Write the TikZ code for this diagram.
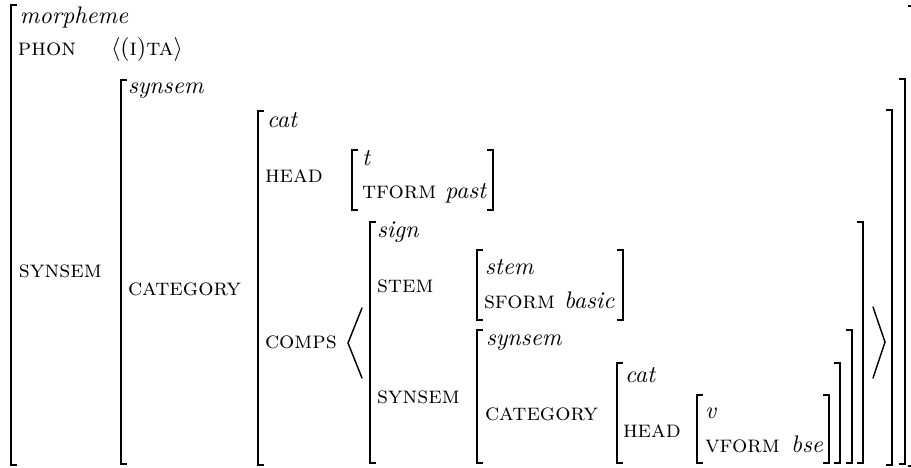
\documentclass[tikz,border=0pt]{standalone}
\usepackage{amsmath}
\begin{document}
\begin{tikzpicture}[x=0.41667pt, y=-0.41667pt,
  brk/.style={line width=0.7pt, line cap=butt, line join=miter},
  ang/.style={line width=0.6pt, line cap=round},
  lab/.style={anchor=base west, inner sep=0pt, outer sep=0pt}]
\useasboundingbox (0,0) rectangle (911,467);
\newcommand\LBr[3]{\draw[brk] ({#1+6},#2) -- (#1,#2) -- (#1,#3) -- ({#1+6},#3);}
\newcommand\RBr[3]{\draw[brk] ({#1-6},#2) -- (#1,#2) -- (#1,#3) -- ({#1-6},#3);}
% outer morpheme AVM
\LBr{11}{5}{465}\RBr{914}{6}{466}
\node[lab] (morph) at (20,23) {\textit{morpheme}};
\node[lab] (phon) at (18,55) {\textsc{phon}};
\node[lab] (phonv) at (111,55) {$\langle$(\textsc{i})\textsc{ta}$\rangle$};
\node[lab] (syn1) at (19,277) {\textsc{synsem}};
% synsem level
\LBr{121}{80}{464}\RBr{905}{79}{464}
\node[lab] (syn2) at (128,93) {\textit{synsem}};
\node[lab] (cat2) at (128,295) {\textsc{category}};
% cat level
\LBr{258}{111}{465}\RBr{892}{110}{465}
\node[lab] (cat3) at (267,127) {\textit{cat}};
\node[lab] (head3) at (265,182) {\textsc{head}};
\LBr{352}{150}{210}\RBr{493}{150}{210}
\node[lab] (t) at (362,165) {\textit{t}};
\node[lab] (tform) at (362,198) {\textsc{tform}};
\node[lab] (past) at (445,198) {\textit{past}};
\node[lab] (comps) at (265,348) {\textsc{comps}};
\coordinate (la1) at (362,308); \coordinate (la2) at (348,343); \coordinate (la3) at (362,378);
\draw[ang] (la1) -- (la2) -- (la3);
% sign
\LBr{370}{222}{463}\RBr{863}{222}{463}
\node[lab] (sign) at (377,237) {\textit{sign}};
\node[lab] (stemL) at (377,292) {\textsc{stem}};
\LBr{477}{250}{320}\RBr{623}{250}{320}
\node[lab] (stemT) at (485,274) {\textit{stem}};
\node[lab] (sform) at (484,308) {\textsc{sform}};
\node[lab] (basic) at (564,308) {\textit{basic}};
\node[lab] (syn3) at (377,403) {\textsc{synsem}};
% inner synsem
\LBr{477}{330}{463}\RBr{852}{330}{463}
\node[lab] (syn4) at (486,345) {\textit{synsem}};
\node[lab] (cat4) at (485,420) {\textsc{category}};
\LBr{617}{363}{463}\RBr{840}{363}{463}
\node[lab] (cat5) at (625,382) {\textit{cat}};
\node[lab] (head5) at (623,437) {\textsc{head}};
\LBr{697}{395}{463}\RBr{829}{395}{463}
\node[lab] (v) at (705,418) {\textit{v}};
\node[lab] (vform) at (705,452) {\textsc{vform}};
\node[lab] (bse) at (791,452) {\textit{bse}};
\coordinate (ra1) at (873,307); \coordinate (ra2) at (885,342); \coordinate (ra3) at (873,378);
\draw[ang] (ra1) -- (ra2) -- (ra3);
\end{tikzpicture}
\end{document}
